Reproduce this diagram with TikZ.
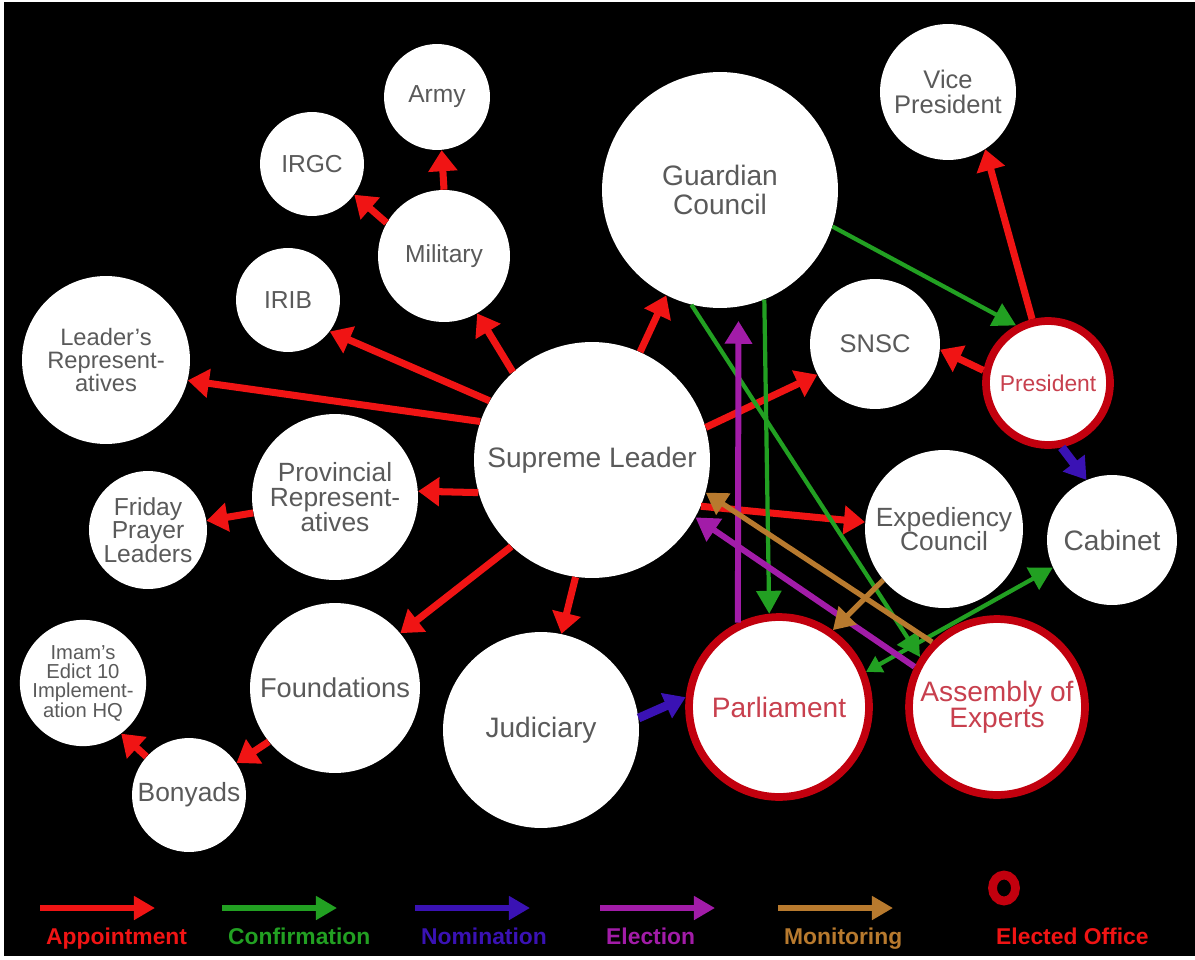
\documentclass[tikz,border=0pt]{standalone}
\usepackage{fontspec}
\setmainfont{Liberation Sans}
\usetikzlibrary{arrows.meta,shapes.geometric}

\definecolor{apred}{HTML}{F01414}
\definecolor{congreen}{HTML}{22A022}
\definecolor{nomblue}{HTML}{3A12B4}
\definecolor{elpurple}{HTML}{A21CA8}
\definecolor{monbrown}{HTML}{B87A2E}
\definecolor{ringred}{HTML}{C2000E}
\definecolor{electtext}{HTML}{C8404E}
\definecolor{txtgray}{HTML}{5A5A5A}

\begin{document}
\begin{tikzpicture}[%
    x=0.02cm, y=-0.02cm,                 % one unit = one pixel of the chart, y runs down
    >={Triangle[length=12pt,width=16pt]}, % big fat heads for appointments
    ]
% -------------------------------------------------
% Bubble and connector styles
\tikzset{
  bub/.style={circle, fill=white, inner sep=0pt, align=center, text=txtgray,
    minimum size=(#1)*0.04cm},
  elected/.style={bub=#1-4, draw=ringred, line width=4.4pt, text=electtext},
  fs/.style 2 args={font=\fontsize{#1}{#2}\selectfont},
  % one line style per kind of power
  appt/.style={->, draw=apred, line width=4pt},
  conf/.style={-{Triangle[length=13pt,width=14pt]}, draw=congreen, line width=2.4pt},
  nomin/.style={-{Triangle[length=12pt,width=15pt]}, draw=nomblue, line width=5pt},
  elect/.style={-{Triangle[length=13pt,width=15pt]}, draw=elpurple, line width=3.4pt},
  monit/.style={-{Triangle[length=12pt,width=14pt]}, draw=monbrown, line width=3pt},
  legarr/.style={-{Triangle[length=12pt,width=13pt]}, line width=3.2pt},
  legtxt/.style={anchor=base west, font=\fontsize{13}{13}\selectfont\bfseries},
}
\useasboundingbox (0,0) rectangle (1195,959);
\fill[white] (0,0) rectangle (1195,959);
\fill[black] (4,2) rectangle (1195,956);
% -------------------------------------------------
% The offices
\node[bub=118, fs={16}{17}] (lead) at (592,460) {Supreme Leader};
\node[bub=118, fs={16}{16}] (guard) at (720,190) {Guardian\\Council};
\node[bub=53, fs={14}{14}] (army) at (437,97) {Army};
\node[bub=52, fs={14}{14}] (irgc) at (312,164) {IRGC};
\node[bub=66, fs={14}{14}] (mil) at (444,256) {Military};
\node[bub=52, fs={14}{14}] (irib) at (288,300) {IRIB};
\node[bub=68, fs={14.5}{14}] (vp) at (948,92) {Vice\\President};
\node[bub=65, fs={14.5}{14}] (snsc) at (875,344) {SNSC};
\node[elected=66, fs={13}{13}] (pres) at (1048,383) {President};
\node[bub=84, fs={13.5}{13}] (reps) at (106,360) {Leader's\\Represent-\\atives};
\node[bub=83, fs={15}{14}] (prov) at (335,497) {Provincial\\Represent-\\atives};
\node[bub=59, fs={14}{13.5}] (friday) at (148,530) {Friday\\Prayer\\Leaders};
\node[bub=79, fs={15}{14}] (expd) at (944,529) {Expediency\\Council};
\node[bub=65, fs={16}{16}] (cab) at (1112,540) {Cabinet};
\node[bub=85, fs={15.5}{15}] (found) at (335,688) {Foundations};
\node[bub=98, fs={16}{16}] (judic) at (541,730) {Judiciary};
\node[elected=94, fs={16}{16}] (parl) at (779,707) {Parliament};
\node[elected=92, fs={16}{15}] (assem) at (997,707) {Assembly of\\Experts};
\node[bub=57, fs={15}{15}] (bony) at (189,795) {Bonyads};
\node[bub=56, fs={11.5}{11}] (imam) at (83,683) {Imam's\\Edict 10\\Implement-\\ation HQ};

% -------------------------------------------------
% Appointment
\draw[appt] (lead.161) -- (reps.-14);
\draw[appt] (lead.150) -- (irib.-37);
\draw[appt] (lead.132) -- (mil.-60);
\draw[appt] (lead.66) -- (guard.-117);
\draw[appt] (lead.16) -- (snsc.208);
\draw[appt] (lead.196) -- (prov.4);
\draw[appt] (lead.227) -- (found.40);
\draw[appt] (lead.262) -- (judic.78);
\draw[appt] (lead.-23) -- (expd.175);
\draw[appt] (mil.150) -- (irgc.-36);
\draw[appt] (mil.90) -- (army.-85);
\draw[appt] (prov.191) -- (friday.9);
\draw[appt] (found.219) -- (bony.34);
\draw[appt] (bony.138) -- (imam.-53);
\draw[appt] (pres.169) -- (snsc.-5);
\draw[appt] (pres.104) -- (vp.-57);

% Confirmation
\draw[conf] (guard.-18) -- (pres.119);
\draw[conf] (guard.-68) -- (parl.96);
\draw[conf] (guard.-104) -- (assem.147);
\draw[conf, {Triangle[length=9pt,width=10pt]}-{Triangle[length=13pt,width=14pt]}]
  (parl.22) -- (cab.205);

% Election
\draw[elect, shorten >=8pt] (parl.116) -- (guard.-81);
\draw[elect] (assem.154) -- (lead.-29);

% Nomination
\draw[nomin] (judic.7) -- (parl.174);
\draw[nomin] (pres.-78) -- (cab.113);

% Monitoring
\draw[monit] (assem.135) -- (lead.-16);
\draw[monit] (expd.220) -- (parl.55);

% -------------------------------------------------
% Legend along the bottom
\foreach \x/\col/\lab in {40/apred/Appointment, 222/congreen/Confirmation,
    415/nomblue/Nomination, 600/elpurple/Election, 778/monbrown/Monitoring}
{
  \coordinate (ks\x) at (\x,908);
  \coordinate (ke\x) at (\x+115,908);
  \draw[legarr, draw=\col] (ks\x) -- (ke\x);
  \node[legtxt, text=\col] (kt\x) at (\x,944) {\lab};
}
\node[ellipse, draw=ringred, line width=5pt, minimum width=0.46cm,
  minimum height=0.52cm, inner sep=0pt] (kring) at (1004,888) {};
\node[legtxt, text=apred] (kelect) at (990,944) {Elected Office};
% -------------------------------------------------
\end{tikzpicture}
\end{document}
